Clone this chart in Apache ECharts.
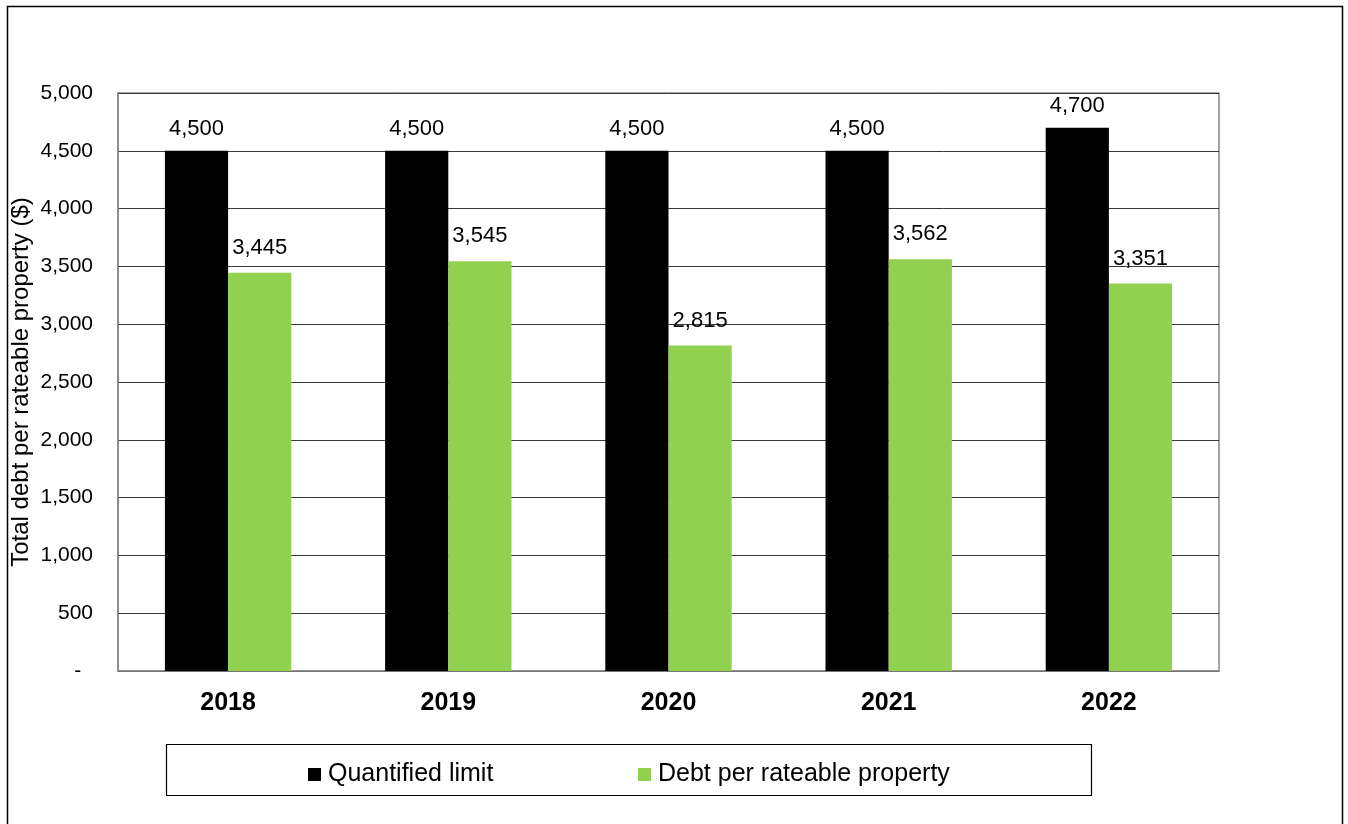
<!DOCTYPE html>
<html>
<head>
<meta charset="utf-8">
<title>Total debt per rateable property</title>
<script src="https://cdn.jsdelivr.net/npm/echarts@6/dist/echarts.min.js"></script>
<style>
  html, body { margin: 0; padding: 0; background: #ffffff; }
  #chart { width: 1348px; height: 824px; }
</style>
</head>
<body>
<div id="chart"></div>
<script>
// Years on the category axis
const years = ['2018', '2019', '2020', '2021', '2022'];
// Series values ($ per rateable property)
const quantifiedLimit = [4500, 4500, 4500, 4500, 4700];
const debtPerProperty = [3445, 3545, 2815, 3562, 3351];
// Value axis range and step
const yMin = 0;
const yMax = 5000;
const yStep = 500;

const FONT = "'Liberation Sans', Arial, sans-serif";
const fmt = v => v.toLocaleString('en-US');

const chart = echarts.init(document.getElementById('chart'), null, { renderer: 'canvas' });

chart.setOption({
  backgroundColor: '#ffffff',
  animation: false,
  textStyle: { fontFamily: FONT, color: '#000' },
  graphic: [
    {
      type: 'rect',
      shape: { x: 7.5, y: 6.5, width: 1335, height: 840 },
      style: { fill: 'none', stroke: '#000', lineWidth: 1.5 },
      silent: true
    },
    {
      type: 'rect',
      shape: { x: 166.5, y: 744.5, width: 925, height: 51 },
      style: { fill: 'none', stroke: '#000', lineWidth: 1.2 },
      silent: true
    }
  ],
  grid: {
    left: 118,
    top: 93,
    right: 129,
    bottom: 153,
    outerBoundsMode: 'none',
    containLabel: false,
    show: true,
    borderColor: '#888',
    borderWidth: 1.5,
    backgroundColor: 'transparent'
  },
  legend: [
    {
      data: ['Quantified limit'],
      left: 303,
      top: 757,
      itemWidth: 13,
      itemHeight: 13,
      icon: 'rect',
      textStyle: { fontFamily: FONT, fontSize: 25, color: '#000', padding: [0, 0, 0, 2] }
    },
    {
      data: ['Debt per rateable property'],
      left: 633,
      top: 757,
      itemWidth: 13,
      itemHeight: 13,
      icon: 'rect',
      textStyle: { fontFamily: FONT, fontSize: 25, color: '#000', padding: [0, 0, 0, 2] }
    }
  ],
  xAxis: {
    type: 'category',
    data: years,
    axisLine: { show: true, lineStyle: { color: '#888', width: 1.5 } },
    axisTick: { show: false },
    axisLabel: {
      margin: 20,
      fontFamily: FONT,
      fontSize: 25,
      fontWeight: 'bold',
      color: '#000'
    },
    splitLine: { show: false }
  },
  yAxis: {
    type: 'value',
    min: yMin,
    max: yMax,
    interval: yStep,
    name: 'Total debt per rateable property ($)',
    nameLocation: 'middle',
    nameGap: 85,
    nameMoveOverlap: false,
    nameTextStyle: { fontFamily: FONT, fontSize: 24, color: '#000' },
    axisLine: { show: true, lineStyle: { color: '#888', width: 1.5 } },
    axisTick: { show: false },
    axisLabel: {
      margin: 25,
      fontFamily: FONT,
      fontSize: 21,
      color: '#000',
      formatter: v => (v === 0 ? '-  ' : fmt(v))
    },
    splitLine: { show: true, lineStyle: { color: '#3a3a3a', width: 1 } }
  },
  series: [
    {
      name: 'Quantified limit',
      type: 'bar',
      data: quantifiedLimit,
      barGap: '0%',
      barCategoryGap: '42.6%',
      itemStyle: { color: '#000000' },
      label: {
        show: true,
        position: 'top',
        distance: 11,
        fontFamily: FONT,
        fontSize: 22,
        color: '#000',
        formatter: p => fmt(p.value)
      }
    },
    {
      name: 'Debt per rateable property',
      type: 'bar',
      data: debtPerProperty,
      itemStyle: { color: '#92D050' },
      label: {
        show: true,
        position: 'top',
        distance: 14,
        fontFamily: FONT,
        fontSize: 22,
        color: '#000',
        formatter: p => fmt(p.value)
      }
    }
  ]
});
</script>
</body>
</html>
